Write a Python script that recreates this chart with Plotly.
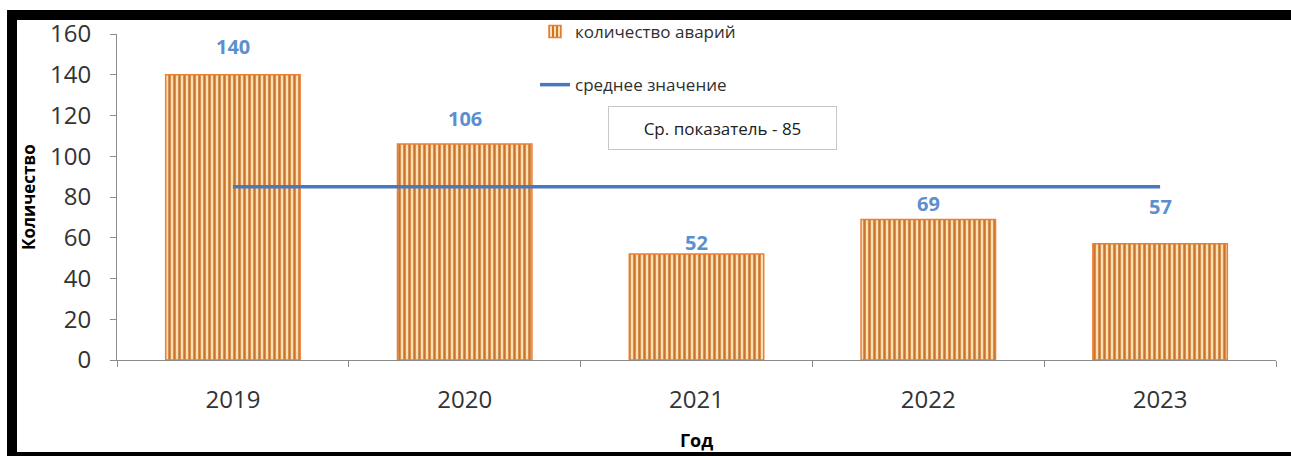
import plotly.graph_objects as go

years = ["2019", "2020", "2021", "2022", "2023"]
accidents = [140, 106, 52, 69, 57]
mean_values = [85, 85, 85, 85, 85]
y_ticks = [0, 20, 40, 60, 80, 100, 120, 140, 160]
label_shift = [28, 26, 12, 16, 37]

W, H = 1291, 456
L, R, T, B = 117, 15, 34, 96
pw, ph = W - L - R, H - T - B

def px_x(x):
    return (x - L) / pw

def px_y(y):
    return (H - B - y) / ph

fig = go.Figure()
fig.add_trace(go.Bar(
    x=years, y=accidents, name="количество аварий", width=0.58,
    marker=dict(color="#FCDDB0", line=dict(color="#ED7D31", width=1.5),
                pattern=dict(shape="|", fgcolor="#C9752F", bgcolor="#FDDFB2",
                             size=5, solidity=0.5, fillmode="replace")),
    legendgroup="a",
))
fig.add_trace(go.Scatter(
    x=years, y=mean_values, name="среднее значение", mode="lines",
    line=dict(color="#4A78BE", width=3.5), legendgroup="b",
))

for i, (v, s) in enumerate(zip(accidents, label_shift)):
    fig.add_annotation(x=i, y=v, text=str(v), showarrow=False, yshift=s,
                       yanchor="middle",
                       font=dict(family="Open Sans", size=20, color="#5B8FD0", weight="bold"))

fig.add_annotation(xref="paper", yref="paper", x=px_x(722), y=px_y(128),
                   xanchor="center", yanchor="middle",
                   text="Ср. показатель - 85", showarrow=False,
                   width=225, height=40, bordercolor="#C8C8C8", borderwidth=1,
                   bgcolor="white",
                   font=dict(family="Open Sans", size=17, color="#202020"))

fig.add_annotation(xref="paper", yref="paper", x=px_x(28), y=0.5,
                   xanchor="center", yanchor="middle",
                   text="<b>Количество</b>", textangle=-90, showarrow=False,
                   font=dict(family="Open Sans", size=17, color="black"))
fig.add_annotation(xref="paper", yref="paper", x=0.5, y=px_y(440),
                   xanchor="center", yanchor="middle",
                   text="<b>Год</b>", showarrow=False,
                   font=dict(family="Open Sans", size=18, color="black"))

# black frame
for x0, y0, x1, y1 in [(7, 10, W, 20), (7, 10, 17, H), (7, 452, W, H)]:
    fig.add_shape(type="rect", xref="paper", yref="paper",
                  x0=px_x(x0), x1=px_x(x1), y0=px_y(y0), y1=px_y(y1),
                  fillcolor="black", line=dict(width=0), layer="above")

fig.update_layout(
    width=W, height=H, margin=dict(l=L, r=R, t=T, b=B, autoexpand=False),
    plot_bgcolor="white", paper_bgcolor="white",
    bargap=0.42,
    showlegend=True,
    legend=dict(x=px_x(535), y=px_y(14), xanchor="left", yanchor="top",
                bgcolor="rgba(0,0,0,0)", tracegroupgap=28,
                font=dict(family="Open Sans", size=17, color="#303030")),
    font=dict(family="Open Sans"),
)
fig.update_xaxes(type="category", categoryorder="array", categoryarray=years,
                 range=[-0.5, len(years) - 0.5],
                 showline=True, linecolor="#8C8C8C", linewidth=1,
                 ticks="outside", tickson="boundaries", ticklen=6, tickcolor="#8C8C8C",
                 ticklabelstandoff=18,
                 tickfont=dict(size=24, color="#333333"), showgrid=False, tickangle=0)
fig.update_yaxes(range=[0, 160], tickvals=y_ticks, showline=True, linecolor="#8C8C8C",
                 linewidth=1, ticks="outside", ticklen=6, tickcolor="#8C8C8C",
                 ticklabelstandoff=14,
                 tickfont=dict(size=24, color="#333333"), showgrid=False, zeroline=False)

fig.write_html("out.html", config={"displayModeBar": False},
               post_script="document.body.style.margin='0';")
